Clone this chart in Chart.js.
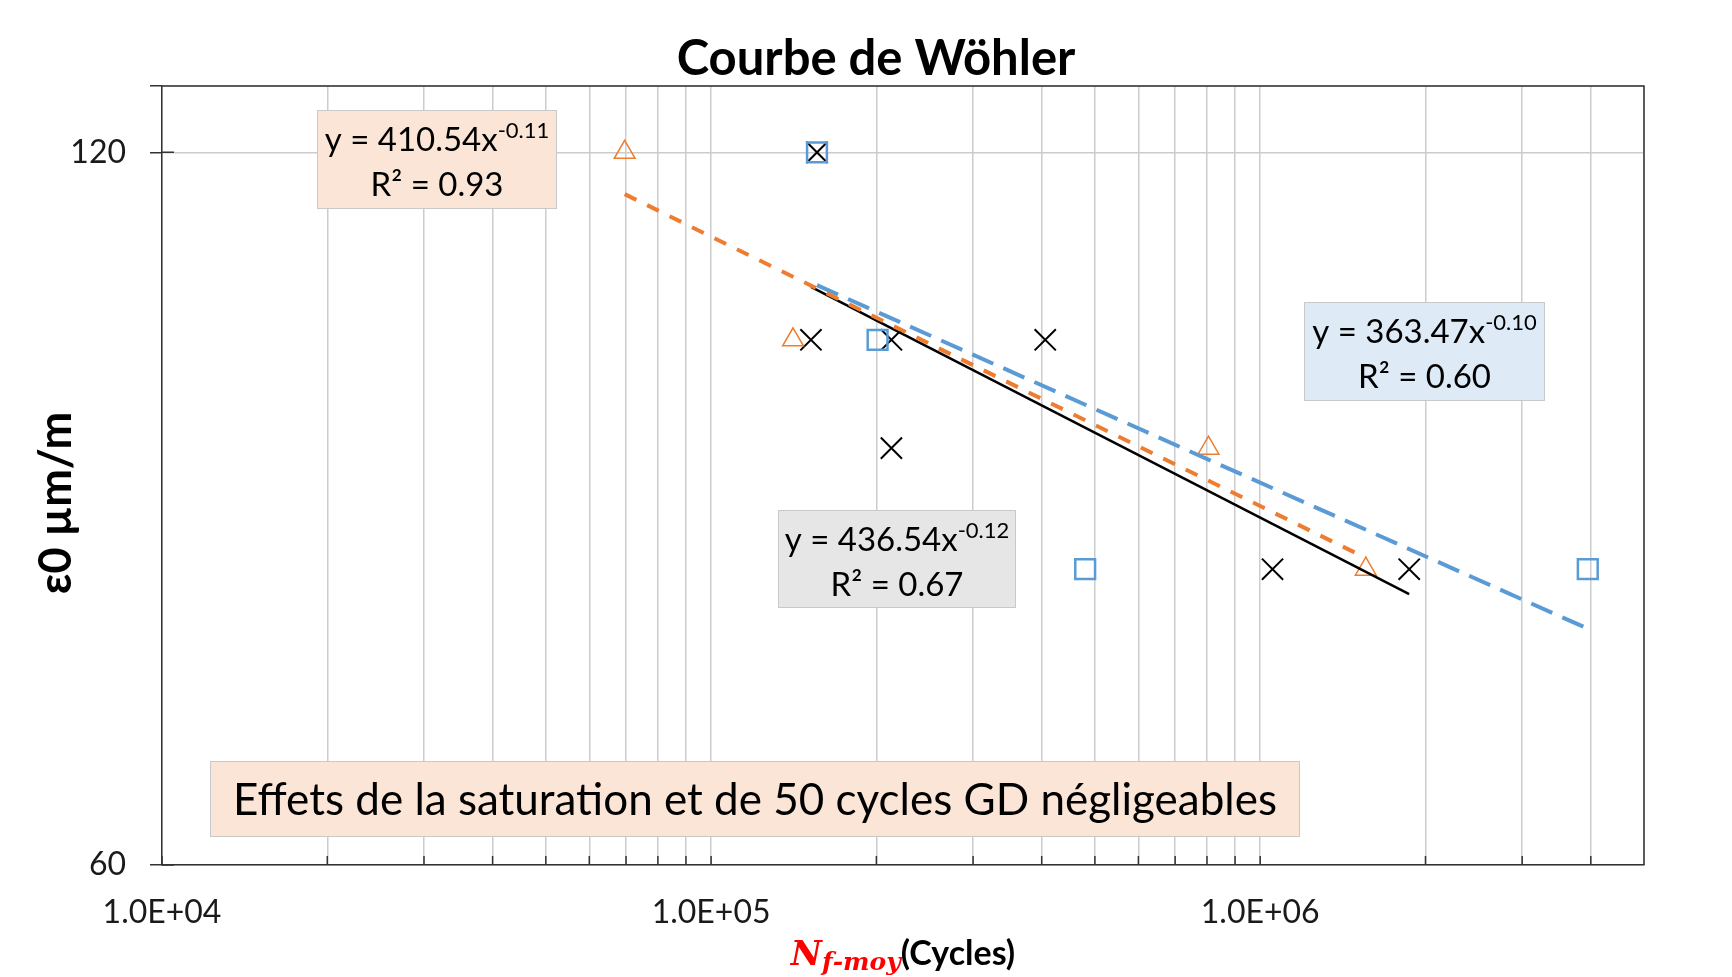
<!DOCTYPE html>
<html>
<head>
<meta charset="utf-8">
<script src="https://cdn.jsdelivr.net/npm/chart.js@4.4.1/dist/chart.umd.min.js"></script>
<style>
html,body{margin:0;padding:0;background:#ffffff;}
canvas{display:block;}
</style>
</head>
<body>
<canvas id="c" width="1732" height="977"></canvas>
<script>
// ---------- DATA ----------
const triX = [69600, 141000, 805000, 1557000];          // orange triangles
const triY = [120, 100, 90, 80];
const sqX = [155900, 201000, 480000, 3950000];           // blue squares
const sqY = [120, 100, 80, 80];
const crossX = [155900, 152000, 213000, 406000, 213000, 1053000, 1868000]; // black crosses
const crossY = [120, 100, 100, 100, 90, 80, 80];

const xDecades = [1e4, 1e5, 1e6];
const xTickLabels = ['1.0E+04', '1.0E+05', '1.0E+06'];
const xMinorMultipliers = [1, 2, 3, 4, 5, 6, 7, 8, 9];
const yTickValues = [60, 120, 128];
const yTickLabels = ['60', '120', ''];

const eqOrange = ['y = 410.54x', '-0.11', 'R² = 0.93'];
const eqBlue = ['y = 363.47x', '-0.10', 'R² = 0.60'];
const eqBlack = ['y = 436.54x', '-0.12', 'R² = 0.67'];
const noteText = 'Effets de la saturation et de 50 cycles GD négligeables';
const titleText = 'Courbe de Wöhler';
const yTitleText = 'ε0 µm/m';

// ---------- power regression (Excel-like trendline) ----------
function powerFit(xs, ys) {
  const n = xs.length;
  let sx = 0, sy = 0, sxx = 0, sxy = 0;
  for (let i = 0; i < n; i++) {
    const lx = Math.log(xs[i]), ly = Math.log(ys[i]);
    sx += lx; sy += ly; sxx += lx * lx; sxy += lx * ly;
  }
  const b = (n * sxy - sx * sy) / (n * sxx - sx * sx);
  const a = Math.exp((sy - b * sx) / n);
  return { a, b };
}
function trend(xs, ys) {
  const f = powerFit(xs, ys);
  const x0 = Math.min(...xs), x1 = Math.max(...xs);
  return [{ x: x0, y: f.a * Math.pow(x0, f.b) }, { x: x1, y: f.a * Math.pow(x1, f.b) }];
}
const pts = (xs, ys) => xs.map((x, i) => ({ x, y: ys[i] }));

const FONT = 'Lato';
const GRID = '#CCCCCC';
const AXIS = '#333333';

// ---------- decoration plugin ----------
function drawRich(ctx, segs, cx, baseY) {
  let w = 0;
  segs.forEach(s => { ctx.font = s.font; s.w = ctx.measureText(s.text).width; w += s.w; });
  let x = cx - w / 2;
  ctx.textAlign = 'left';
  ctx.textBaseline = 'alphabetic';
  segs.forEach(s => {
    ctx.font = s.font;
    ctx.fillStyle = s.color || '#000';
    ctx.fillText(s.text, x, baseY + (s.dy || 0));
    x += s.w;
  });
}

const deco = {
  id: 'deco',
  beforeDatasetsDraw(chart) {
    const { ctx, chartArea: ca } = chart;
    const L = ca.left, T = ca.top;
    const boxes = [
      { x: L + 155, y: T + 24, w: 240, h: 99, bg: '#FBE5D6', eq: eqOrange },
      { x: L + 1142, y: T + 216, w: 241, h: 99, bg: '#DEEBF7', eq: eqBlue },
      { x: L + 616, y: T + 424, w: 238, h: 98, bg: '#E7E6E6', eq: eqBlack }
    ];
    ctx.save();
    boxes.forEach(b => {
      ctx.fillStyle = b.bg;
      ctx.fillRect(b.x, b.y, b.w, b.h);
      ctx.strokeStyle = '#C9C9C9';
      ctx.lineWidth = 1;
      ctx.strokeRect(b.x + 0.5, b.y + 0.5, b.w - 1, b.h - 1);
      const cx = b.x + b.w / 2;
      drawRich(ctx, [
        { text: b.eq[0], font: `33px ${FONT}` },
        { text: b.eq[1], font: `22px ${FONT}`, dy: -13 }
      ], cx, b.y + 41);
      drawRich(ctx, [{ text: b.eq[2], font: `33px ${FONT}` }], cx, b.y + 86);
    });
    // note box
    const n = { x: L + 48, y: T + 675, w: 1090, h: 76 };
    ctx.fillStyle = '#FBE5D6';
    ctx.fillRect(n.x, n.y, n.w, n.h);
    ctx.strokeStyle = '#C9C9C9';
    ctx.lineWidth = 1;
    ctx.strokeRect(n.x + 0.5, n.y + 0.5, n.w - 1, n.h - 1);
    drawRich(ctx, [{ text: noteText, font: `44px ${FONT}` }], n.x + n.w / 2, n.y + 54);

    // plot border (top & right) and inner ticks
    ctx.strokeStyle = AXIS;
    ctx.lineWidth = 1.5;
    ctx.beginPath();
    ctx.moveTo(ca.left, ca.top); ctx.lineTo(ca.right, ca.top); ctx.lineTo(ca.right, ca.bottom);
    const xs = chart.scales.x, ys = chart.scales.y;
    xs.ticks.forEach(t => {
      const px = xs.getPixelForValue(t.value);
      ctx.moveTo(px, ca.bottom); ctx.lineTo(px, ca.bottom - 9);
    });
    ys.ticks.forEach(t => {
      const py = ys.getPixelForValue(t.value);
      ctx.moveTo(ca.left, py); ctx.lineTo(ca.left + 12, py);
    });
    ctx.stroke();
    ctx.restore();
  },
  afterDraw(chart) {
    const { ctx, chartArea: ca } = chart;
    ctx.save();
    // title
    ctx.fillStyle = '#000';
    ctx.font = `bold 49px ${FONT}`;
    ctx.textAlign = 'center';
    ctx.textBaseline = 'alphabetic';
    ctx.fillText(titleText, 876, 75);
    // y title
    ctx.save();
    ctx.translate(71, 503);
    ctx.rotate(-Math.PI / 2);
    ctx.font = `bold 45px ${FONT}`;
    ctx.textAlign = 'center';
    ctx.textBaseline = 'alphabetic';
    ctx.fillText(yTitleText, 0, 0);
    ctx.restore();
    // x title
    drawRich(ctx, [
      { text: 'N', font: `bold italic 34px "DejaVu Serif"`, color: '#FF0000' },
      { text: 'f‑moy', font: `bold italic 25px "DejaVu Serif"`, color: '#FF0000', dy: 5 },
      { text: '(Cycles)', font: `bold 34px ${FONT}`, color: '#000' }
    ], (ca.left + ca.right) / 2, 965);
    ctx.restore();
  }
};

// ---------- chart ----------
new Chart(document.getElementById('c'), {
  type: 'scatter',
  data: {
    datasets: [
      { label: 'trend orange', type: 'line', data: trend(triX, triY), borderColor: '#ED7D31', borderWidth: 4,
        borderDash: [13, 12], pointRadius: 0, fill: false, order: 0 },
      { label: 'trend bleu', type: 'line', data: trend(sqX, sqY), borderColor: '#5B9BD5', borderWidth: 4,
        borderDash: [23, 11], pointRadius: 0, fill: false, order: 0 },
      { label: 'trend noir', type: 'line', data: trend(crossX, crossY), borderColor: '#000000', borderWidth: 2.5,
        pointRadius: 0, fill: false, order: 0 },
      { label: 'triangles', data: pts(triX, triY), pointStyle: 'triangle', pointRadius: 12,
        pointBorderColor: '#ED7D31', pointBackgroundColor: 'rgba(0,0,0,0)', pointBorderWidth: 1.5, order: 1 },
      { label: 'carrés', data: pts(sqX, sqY), pointStyle: 'rect', pointRadius: 14,
        pointBorderColor: '#5B9BD5', pointBackgroundColor: 'rgba(0,0,0,0)', pointBorderWidth: 2.5, order: 1 },
      { label: 'croix', data: pts(crossX, crossY), pointStyle: 'crossRot', pointRadius: 15,
        pointBorderColor: '#000000', pointBackgroundColor: 'rgba(0,0,0,0)', pointBorderWidth: 2, order: 1 }
    ]
  },
  options: {
    responsive: false,
    animation: false,
    devicePixelRatio: 1,
    layout: { padding: { left: 0, right: 88, top: 86, bottom: 0 } },
    plugins: { legend: { display: false }, tooltip: { enabled: false }, title: { display: false } },
    scales: {
      x: {
        type: 'logarithmic', min: 1e4, max: 5e6,
        afterBuildTicks: s => {
          const t = [];
          xDecades.forEach(d => xMinorMultipliers.forEach(m => { if (m * d <= s.max) t.push({ value: m * d }); }));
          s.ticks = t;
        },
        ticks: {
          autoSkip: false, maxRotation: 0, padding: 28, color: '#1A1A1A',
          font: { family: FONT, size: 32 },
          callback: v => { const i = xDecades.indexOf(v); return i >= 0 ? xTickLabels[i] : ''; }
        },
        grid: { color: GRID, lineWidth: 1.5, drawTicks: false },
        border: { display: true, color: AXIS, width: 1.5 },
        afterFit: s => { s.height = 112; }
      },
      y: {
        type: 'logarithmic', min: 60, max: 128,
        afterBuildTicks: s => { s.ticks = yTickValues.map(v => ({ value: v })); },
        ticks: {
          autoSkip: false, padding: 24, color: '#1A1A1A',
          font: { family: FONT, size: 32 },
          callback: v => { const i = yTickValues.indexOf(v); return i >= 0 ? yTickLabels[i] : ''; }
        },
        grid: { color: GRID, lineWidth: 1.5, tickColor: AXIS, tickLength: 12, tickWidth: 1.5 },
        border: { display: true, color: AXIS, width: 1.5 },
        afterFit: s => { s.width = 162; }
      }
    }
  },
  plugins: [deco]
});
</script>
</body>
</html>
